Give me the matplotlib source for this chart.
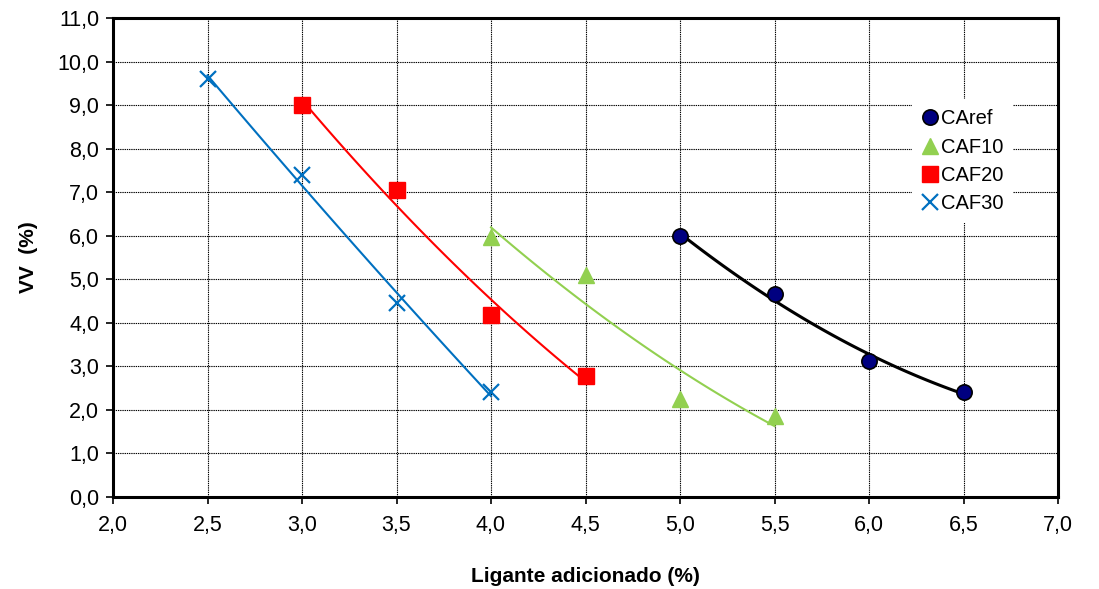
"""VV vs ligante adicionado"""
import numpy as np
import matplotlib.pyplot as plt
from matplotlib.ticker import MultipleLocator, FuncFormatter

plt.rcParams['font.family'] = ['Liberation Sans', 'DejaVu Sans']

# data
x_caref = [5.0, 5.5, 6.0, 6.5]
y_caref = [6.0, 4.67, 3.12, 2.42]
x_caf10 = [4.0, 4.5, 5.0, 5.5]
y_caf10 = [5.97, 5.1, 2.25, 1.85]
x_caf20 = [3.0, 3.5, 4.0, 4.5]
y_caf20 = [9.0, 7.05, 4.18, 2.77]
x_caf30 = [2.5, 3.0, 3.5, 4.0]
y_caf30 = [9.6, 7.4, 4.45, 2.4]

series = [
    ('CAref', x_caref, y_caref, dict(marker='o', color='#000080', mec='black', mew=1.2, ms=11), 'black', 2.2),
    ('CAF10', x_caf10, y_caf10, dict(marker='^', color='#92D050', mec='#92D050', ms=12), '#92D050', 1.5),
    ('CAF20', x_caf20, y_caf20, dict(marker='s', color='#FF0000', mec='#FF0000', ms=11), '#FF0000', 1.5),
    ('CAF30', x_caf30, y_caf30, dict(marker='x', color='#0070C0', mew=1.6, ms=11), '#0070C0', 1.5),
]

fig = plt.figure(figsize=(10.99, 5.89), dpi=100)
ax = fig.add_axes([113 / 1099, 92 / 589, 945 / 1099, 479 / 589])

for name, xs, ys, mk, lc, lw in series:
    # second order trendline, like Excel
    coef = np.polyfit(xs, ys, 2)
    xx = np.linspace(min(xs), max(xs), 100)
    ax.plot(xx, np.polyval(coef, xx), color=lc, lw=lw, zorder=3)
    ax.plot(xs, ys, ls='none', label=name, zorder=4, **mk)

ax.set_xlim(2.0, 7.0)
ax.set_ylim(0.0, 11.0)
ax.xaxis.set_major_locator(MultipleLocator(0.5))
ax.yaxis.set_major_locator(MultipleLocator(1.0))
comma = FuncFormatter(lambda v, p: f'{v:.1f}'.replace('.', ','))
ax.xaxis.set_major_formatter(comma)
ax.yaxis.set_major_formatter(comma)
ax.tick_params(labelsize=15.5, length=5, width=1.2, direction='out', pad=5)
ax.tick_params(axis='x', pad=8)

ax.grid(True, color='black', linestyle=(0, (1.2, 0.8)), linewidth=0.8)
ax.set_axisbelow(True)
for s in ax.spines.values():
    s.set_linewidth(2.2)

ax.set_xlabel('Ligante adicionado (%)', fontsize=15, fontweight='bold', labelpad=22)
ax.set_ylabel('VV  (%)', fontsize=15, fontweight='bold', labelpad=14)

leg = ax.legend(loc='upper left', bbox_to_anchor=(0.845, 0.83), fontsize=14.5,
                frameon=True, fancybox=False, framealpha=1, edgecolor='white',
                handlelength=0.8, handletextpad=0.15, labelspacing=0.45,
                borderpad=0.5, borderaxespad=0)
leg.get_frame().set_linewidth(0)

plt.savefig('out.png', dpi=100)
